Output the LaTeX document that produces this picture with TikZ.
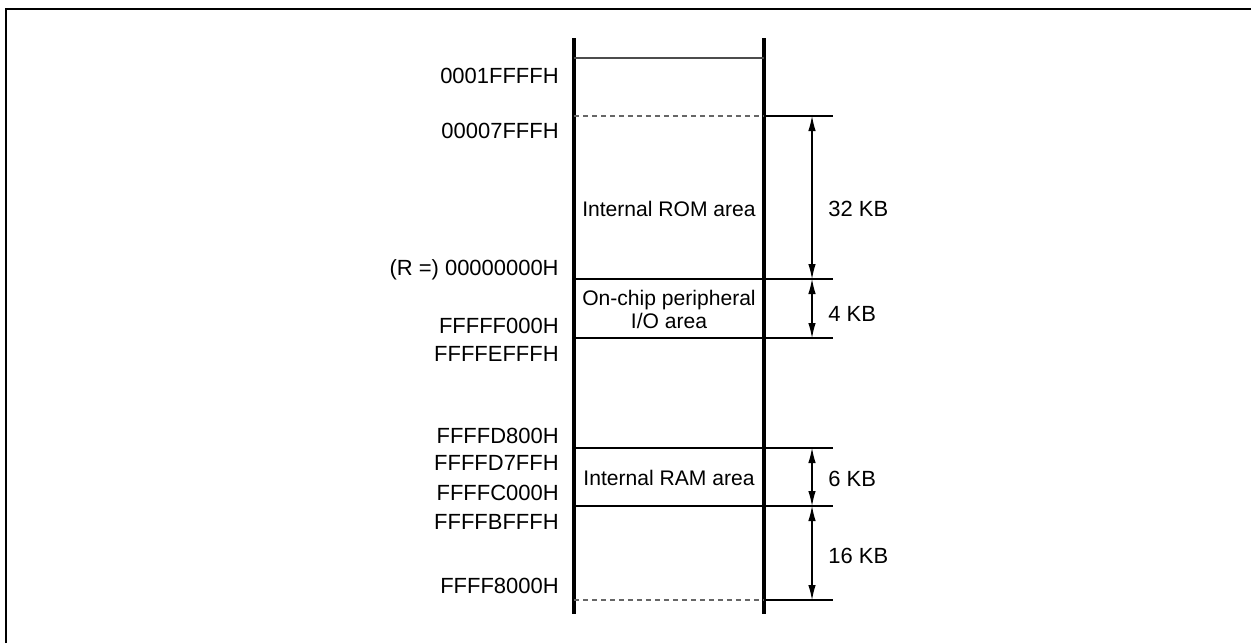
\documentclass[tikz,border=0pt]{standalone}
\usepackage{fontspec}
\setmainfont{Liberation Sans}
\usetikzlibrary{arrows.meta}

\begin{document}
\begin{tikzpicture}[x=0.02cm,y=-0.02cm,font=\fontsize{12.5}{15}\selectfont,
  addr/.style={anchor=base east,inner sep=0pt},
  kb/.style={anchor=base west,inner sep=0pt},
  area/.style={align=center,inner sep=0pt,font=\fontsize{12}{13}\selectfont},
  dim/.style={{Latex[length=0.3cm,width=0.15cm]}-{Latex[length=0.3cm,width=0.15cm]},line width=0.6pt},
  wall/.style={line width=1.8pt},
  bound/.style={line width=0.8pt},
  open/.style={line width=0.8pt,black!60,dash pattern=on 0.1cm off 0.08cm}]
\useasboundingbox (0,0) rectangle (1251,643);
% frame
\draw[line width=1.5pt] (6,643) -- (6,9) -- (1251,9);
% memory column
\draw[wall] (574,38) -- (574,614);
\draw[wall] (764,38) -- (764,614);
\draw[bound,black!70] (574,58) -- (764,58);
\draw[open] (574,116) -- (764,116);
\draw[open] (574,600) -- (764,600);
% boundaries with extension lines
\draw[bound] (764,116) -- (833,116);
\draw[bound] (574,279) -- (833,279);
\draw[bound] (574,338) -- (833,338);
\draw[bound] (574,448) -- (833,448);
\draw[bound] (574,506) -- (833,506);
\draw[bound] (764,600) -- (833,600);
\coordinate (romtop) at (812,116);
\coordinate (iotop) at (812,279);
\coordinate (iobot) at (812,338);
\coordinate (ramtop) at (812,448);
\coordinate (rambot) at (812,506);
\coordinate (resbot) at (812,600);
\draw[dim] (romtop) -- (iotop);
\draw[dim] (iotop) -- (iobot);
\draw[dim] (ramtop) -- (rambot);
\draw[dim] (rambot) -- (resbot);
% sizes
\node[kb] (kb32) at (828,216) {32 KB};
\node[kb] (kb4) at (828,321) {4 KB};
\node[kb] (kb6) at (828,486) {6 KB};
\node[kb] (kb16) at (828,563) {16 KB};
% areas
\node[area] (rom) at (669,209) {Internal ROM area};
\node[area,anchor=north] (io) at (669,290) {On-chip peripheral\\I/O area};
\node[area] (ram) at (669,478) {Internal RAM area};
% addresses
\node[addr] (a1) at (559,83) {0001FFFFH};
\node[addr] (a2) at (559,138) {00007FFFH};
\node[addr] (a3) at (559,275) {(R =) 00000000H};
\node[addr] (a4) at (559,333) {FFFFF000H};
\node[addr] (a5) at (559,361) {FFFFEFFFH};
\node[addr] (a6) at (559,443) {FFFFD800H};
\node[addr] (a7) at (559,470) {FFFFD7FFH};
\node[addr] (a8) at (559,500) {FFFFC000H};
\node[addr] (a9) at (559,529) {FFFFBFFFH};
\node[addr] (a10) at (559,593) {FFFF8000H};
\end{tikzpicture}
\end{document}
